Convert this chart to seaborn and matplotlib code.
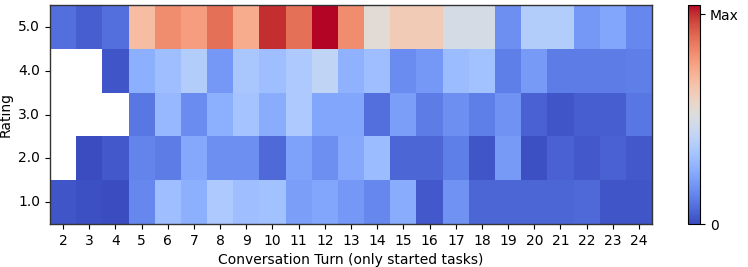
import numpy as np
import pandas as pd
import matplotlib
matplotlib.use("Agg")
import matplotlib.pyplot as plt
import seaborn as sns

turns = list(range(2, 25))
ratings = ["5.0", "4.0", "3.0", "2.0", "1.0"]

r5 = [0.08, 0.04, 0.08, 0.65, 0.78, 0.74, 0.84, 0.70, 0.96, 0.84, 1.00, 0.78,
      0.52, 0.60, 0.60, 0.47, 0.47, 0.16, 0.36, 0.36, 0.18, 0.22, 0.14]
r4 = [np.nan, np.nan, 0.02, 0.25, 0.30, 0.36, 0.18, 0.33, 0.30, 0.34, 0.40, 0.26,
      0.30, 0.15, 0.18, 0.29, 0.31, 0.12, 0.19, 0.11, 0.11, 0.11, 0.12]
r3 = [np.nan, np.nan, np.nan, 0.10, 0.28, 0.15, 0.25, 0.32, 0.24, 0.34, 0.22, 0.22,
      0.08, 0.20, 0.11, 0.16, 0.12, 0.17, 0.05, 0.02, 0.04, 0.04, 0.10]
r2 = [np.nan, 0.00, 0.03, 0.13, 0.11, 0.23, 0.16, 0.16, 0.07, 0.21, 0.16, 0.23,
      0.29, 0.06, 0.06, 0.12, 0.02, 0.19, 0.01, 0.05, 0.03, 0.05, 0.03]
r1 = [0.02, 0.01, 0.00, 0.14, 0.30, 0.25, 0.34, 0.30, 0.31, 0.20, 0.22, 0.18,
      0.14, 0.24, 0.03, 0.17, 0.06, 0.06, 0.06, 0.06, 0.07, 0.02, 0.02]

cbar_ticks = [0, 0.955]
cbar_labels = ["0", "Max"]

df = pd.DataFrame([r5, r4, r3, r2, r1], index=ratings, columns=turns)

fig = plt.figure(figsize=(7.48, 2.67), dpi=100)
ax = fig.add_axes([0.0668, 0.161, 0.805, 0.820])
cax = fig.add_axes([0.920, 0.161, 0.016, 0.822])

sns.heatmap(df, ax=ax, cbar_ax=cax, cmap="coolwarm", vmin=0, vmax=1,
            cbar_kws={"ticks": cbar_ticks})

for s in ax.spines.values():
    s.set_visible(True)
    s.set_linewidth(1.0)
    s.set_color("#333333")

ax.set_xlabel("Conversation Turn (only started tasks)", fontsize=10)
ax.set_ylabel("Rating", fontsize=10)
ax.tick_params(axis="both", labelsize=10, length=3.5)
ax.set_yticklabels(ratings, rotation=0)
ax.set_xticklabels([str(t) for t in turns], rotation=0)

cb = ax.collections[0].colorbar
cb.set_ticklabels(cbar_labels)
cb.ax.tick_params(labelsize=10, length=3.5)
cb.outline.set_visible(True)
cb.outline.set_linewidth(0.8)

fig.savefig("out.png", dpi=100)
